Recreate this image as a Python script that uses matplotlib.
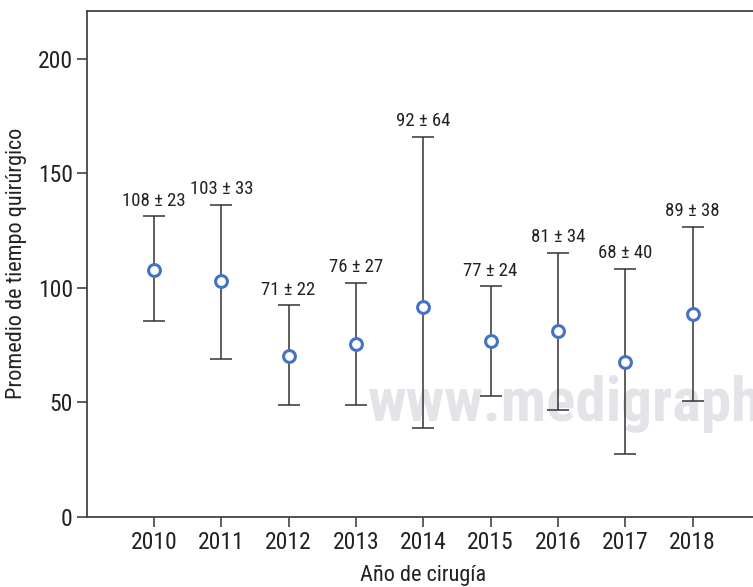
import matplotlib
matplotlib.use("Agg")
import matplotlib.pyplot as plt
from matplotlib import font_manager

# data
years = [2010, 2011, 2012, 2013, 2014, 2015, 2016, 2017, 2018]
means = [108, 102.8, 70.4, 75.4, 91.6, 76.8, 81.1, 67.8, 88.5]
upper = [131.2, 136.4, 92.3, 102.2, 166.0, 100.6, 115.4, 108.3, 126.4]
lower = [85.6, 69.0, 48.7, 48.7, 38.8, 52.6, 46.8, 27.4, 50.5]
label_mean = [108, 103, 71, 76, 92, 77, 81, 68, 89]
label_sd = [23, 33, 22, 27, 64, 24, 34, 40, 38]
yticks = [0, 50, 100, 150, 200]

names = {f.name for f in font_manager.fontManager.ttflist}
family = next((n for n in ["Roboto Condensed", "Archivo Narrow", "PT Sans Narrow"] if n in names),
              "Liberation Sans")
plt.rcParams['font.family'] = [family, 'DejaVu Sans']

fig = plt.figure(figsize=(7.53, 5.87), dpi=100)
ax = fig.add_axes([0.1151, 0.1198, 0.894, 0.8615])

# watermark (cut off at the right edge, as in the source)
ax.text(0.418, 0.19, "www.medigraphic", transform=ax.transAxes, fontsize=44,
        fontweight='bold', color='#e3e4e8', zorder=0)

err = [[m - l for m, l in zip(means, lower)], [u - m for m, u in zip(means, upper)]]
ax.errorbar(years, means, yerr=err, fmt='none', ecolor='#333333', elinewidth=1.1,
            capsize=8, capthick=1.1, zorder=2)
ax.plot(years, means, 'o', mfc='white', mec='#4472c4', mew=2.2, ms=8.5, zorder=3)

for x, top, m, s in zip(years, upper, label_mean, label_sd):
    ax.annotate(f"{m} ± {s}", (x, top), xytext=(0, 5), textcoords='offset points',
                ha='center', va='bottom', fontsize=13.5, color='#222222')

ax.set_xlim(2009, 2019)
ax.set_ylim(0, 221)
ax.set_xticks(years)
ax.set_yticks(yticks)
ax.tick_params(labelsize=17, length=7, width=1.1, color='#333333', labelcolor='#222222', pad=3)
for side in ['left', 'bottom', 'top']:
    ax.spines[side].set_color('#444444')
    ax.spines[side].set_linewidth(1.3)
ax.spines['right'].set_visible(False)

ax.set_xlabel("Año de cirugía", fontsize=16, color='#222222', labelpad=8)
ax.set_ylabel("Promedio de tiempo quirúrgico", fontsize=16, color='#222222', labelpad=8)

fig.savefig("out.png", dpi=100)
